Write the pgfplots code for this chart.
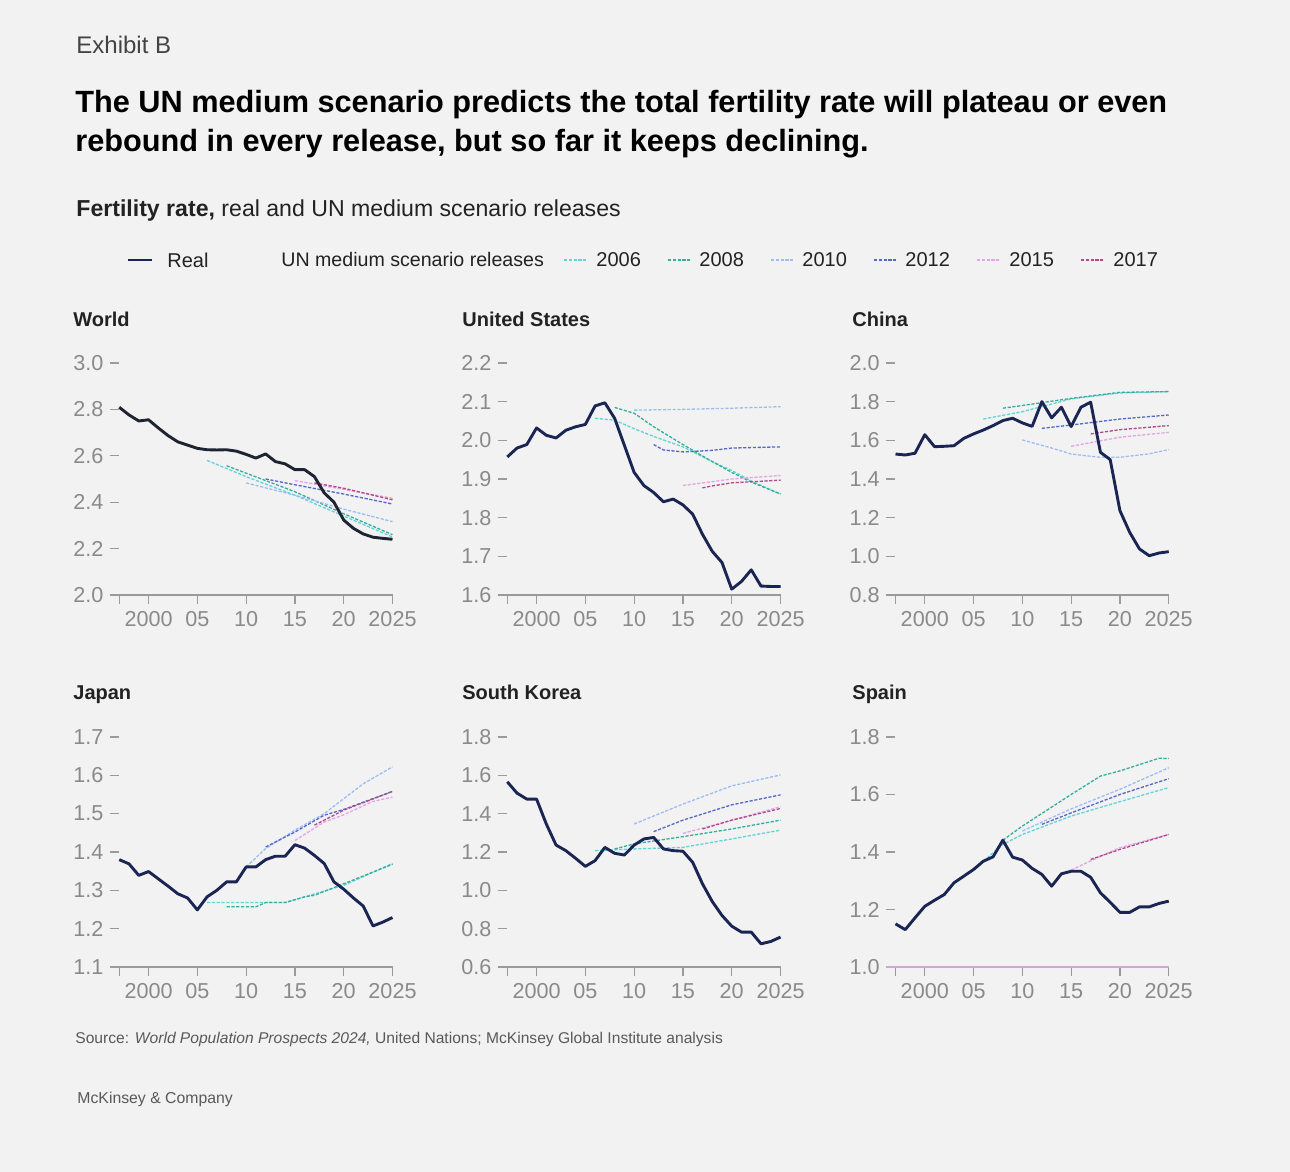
\documentclass[border=0pt]{standalone}
\usepackage{pgfplots}
\pgfplotsset{compat=1.18}
\usepackage{fontspec}
\setmainfont{Liberation Sans}
\definecolor{bg}{HTML}{F2F2F2}
\definecolor{realc}{HTML}{1A2553}
\definecolor{worldc}{HTML}{1E2432}
\definecolor{c2006}{HTML}{62D3D9}
\definecolor{c2008}{HTML}{35AE9E}
\definecolor{c2010}{HTML}{9DBDF2}
\definecolor{c2012}{HTML}{5567C8}
\definecolor{c2015}{HTML}{E3A5E8}
\definecolor{c2017}{HTML}{B04A8C}
\definecolor{axisgray}{HTML}{9A9A9A}
\definecolor{ticklabelgray}{HTML}{8A8A8A}
\definecolor{textdark}{HTML}{222222}
\tikzset{
  scen/.style={line width=0.65bp, dash pattern=on 1.6bp off 0.8bp},
  s2006/.style={scen, color=c2006},
  s2008/.style={scen, color=c2008},
  s2010/.style={scen, color=c2010},
  s2012/.style={scen, color=c2012},
  s2015/.style={scen, color=c2015},
  s2017/.style={scen, color=c2017},
  real/.style={line width=1.45bp, color=realc, line join=round},
}
\pgfplotsset{
  panel/.style={
    scale only axis, width=141.5bp, height=116bp,
    xmin=1996, xmax=2025,
    axis x line=bottom, axis y line=left,
    axis line style={-, draw=axisgray, line width=0.6bp},
    y axis line style={draw=none},
    tick align=outside, major tick length=4.5bp,
    tick style={draw=axisgray, line width=0.6bp},
    ytick style={xshift=4.5bp},
    xtick={1997,2000,2005,2010,2015,2020,2025},
    xticklabels={,2000,05,10,15,20,2025},
    ticklabel style={font=\fontsize{10.8bp}{12bp}\selectfont, text=ticklabelgray},
    yticklabel style={xshift=5bp},
    xticklabel style={text height=7.8bp, text depth=0pt},
    clip=false,
  },
}
\newcommand{\ptitle}[3]{\node[anchor=base west, inner sep=0, text=textdark] at (#1,#2) {\fontsize{10bp}{12bp}\selectfont\bfseries #3};}
\begin{document}
\begin{tikzpicture}[x=0.5bp,y=0.5bp]
\fill[bg] (0,0) rectangle (1290,1172);
% header
\node[anchor=base west, inner sep=0, text=textdark!85] at (76,1118) {\fontsize{12bp}{14bp}\selectfont Exhibit B};
\node[anchor=base west, inner sep=0, text=black] at (75,1059) {\fontsize{15.35bp}{18bp}\selectfont\bfseries The UN medium scenario predicts the total fertility rate will plateau or even};
\node[anchor=base west, inner sep=0, text=black] at (75,1020) {\fontsize{15.35bp}{18bp}\selectfont\bfseries rebound in every release, but so far it keeps declining.};
\node[anchor=base west, inner sep=0, text=textdark] at (76,955) {\fontsize{11.55bp}{13bp}\selectfont\textbf{Fertility rate,} real and UN medium scenario releases};
% legend
\draw[realc, line width=1.4bp] (128,912) -- (152,912);
\node[anchor=west, inner sep=0, text=textdark] at (167,912) {\fontsize{10bp}{12bp}\selectfont Real};
\node[anchor=west, inner sep=0, text=textdark] at (281,912) {\fontsize{9.8bp}{12bp}\selectfont UN medium scenario releases};
\draw[s2006] (564,912) -- (586,912);
\node[anchor=west, inner sep=0, text=textdark] at (596,912) {\fontsize{10bp}{12bp}\selectfont 2006};
\draw[s2008] (668,912) -- (690,912);
\node[anchor=west, inner sep=0, text=textdark] at (699,912) {\fontsize{10bp}{12bp}\selectfont 2008};
\draw[s2010] (771,912) -- (793,912);
\node[anchor=west, inner sep=0, text=textdark] at (802,912) {\fontsize{10bp}{12bp}\selectfont 2010};
\draw[s2012] (874,912) -- (896,912);
\node[anchor=west, inner sep=0, text=textdark] at (905,912) {\fontsize{10bp}{12bp}\selectfont 2012};
\draw[s2015] (977,912) -- (999,912);
\node[anchor=west, inner sep=0, text=textdark] at (1009,912) {\fontsize{10bp}{12bp}\selectfont 2015};
\draw[s2017] (1081,912) -- (1103,912);
\node[anchor=west, inner sep=0, text=textdark] at (1113,912) {\fontsize{10bp}{12bp}\selectfont 2017};
% panel titles
\ptitle{73}{845}{World}
\ptitle{462}{845}{United States}
\ptitle{852}{845}{China}
\ptitle{73}{472}{Japan}
\ptitle{462}{472}{South Korea}
\ptitle{852}{472}{Spain}
% footer
\node[anchor=base west, inner sep=0, text=textdark!75] at (75,128) {\fontsize{7.8bp}{9bp}\selectfont Source: \textit{World Population Prospects 2024,} United Nations; McKinsey Global Institute analysis};
\node[anchor=base west, inner sep=0, text=textdark!75] at (77,68) {\fontsize{7.9bp}{10bp}\selectfont McKinsey \& Company};

% ---------------- World
\begin{axis}[panel, at={(54.75bp,288.5bp)}, anchor=south west, ymin=2.0, ymax=3.0,
  ytick={2.0,2.2,2.4,2.6,2.8,3.0}, yticklabels={2.0,2.2,2.4,2.6,2.8,3.0}]
\addplot[s2006] coordinates {(2006,2.58)(2010,2.51)(2015,2.43)(2020,2.34)(2025,2.25)};
\addplot[s2008] coordinates {(2008,2.557)(2010,2.525)(2015,2.445)(2020,2.35)(2025,2.26)};
\addplot[s2010] coordinates {(2010,2.483)(2015,2.43)(2020,2.37)(2025,2.316)};
\addplot[s2012] coordinates {(2012,2.50)(2015,2.475)(2020,2.435)(2025,2.392)};
\addplot[s2015] coordinates {(2015,2.493)(2020,2.455)(2025,2.417)};
\addplot[s2017] coordinates {(2017,2.483)(2020,2.46)(2025,2.41)};
\addplot[real, color=worldc] coordinates {
(1997,2.809)(1998,2.776)(1999,2.75)(2000,2.755)(2001,2.72)(2002,2.687)(2003,2.66)(2004,2.646)
(2005,2.632)(2006,2.626)(2007,2.625)(2008,2.626)(2009,2.62)(2010,2.606)(2011,2.59)(2012,2.608)
(2013,2.575)(2014,2.565)(2015,2.54)(2016,2.54)(2017,2.51)(2018,2.44)(2019,2.40)(2020,2.323)
(2021,2.287)(2022,2.263)(2023,2.249)(2024,2.244)(2025,2.24)};
\end{axis}

% ---------------- United States
\begin{axis}[panel, at={(248.75bp,288.5bp)}, anchor=south west, ymin=1.6, ymax=2.2,
  ytick={1.6,1.7,1.8,1.9,2.0,2.1,2.2}, yticklabels={1.6,1.7,1.8,1.9,2.0,2.1,2.2}]
\addplot[s2006] coordinates {(2006,2.057)(2008,2.052)(2010,2.03)(2012,2.01)(2015,1.983)(2018,1.945)(2020,1.922)(2022,1.895)(2025,1.861)};
\addplot[s2008] coordinates {(2008,2.085)(2010,2.07)(2012,2.035)(2015,1.989)(2018,1.945)(2020,1.917)(2022,1.892)(2025,1.861)};
\addplot[s2010] coordinates {(2010,2.078)(2015,2.08)(2020,2.083)(2025,2.087)};
\addplot[s2012] coordinates {(2012,1.989)(2013,1.975)(2015,1.97)(2018,1.974)(2020,1.98)(2025,1.983)};
\addplot[s2015] coordinates {(2015,1.883)(2018,1.893)(2020,1.9)(2025,1.909)};
\addplot[s2017] coordinates {(2017,1.877)(2018,1.882)(2020,1.89)(2025,1.897)};
\addplot[real] coordinates {
(1997,1.957)(1998,1.98)(1999,1.989)(2000,2.032)(2001,2.013)(2002,2.006)(2003,2.026)(2004,2.035)
(2005,2.041)(2006,2.089)(2007,2.097)(2008,2.057)(2009,1.987)(2010,1.917)(2011,1.883)(2012,1.865)
(2013,1.841)(2014,1.848)(2015,1.833)(2016,1.809)(2017,1.757)(2018,1.713)(2019,1.684)(2020,1.615)
(2021,1.635)(2022,1.665)(2023,1.623)(2024,1.622)(2025,1.622)};
\end{axis}

% ---------------- China
\begin{axis}[panel, at={(442.85bp,288.5bp)}, anchor=south west, ymin=0.8, ymax=2.0,
  ytick={0.8,1.0,1.2,1.4,1.6,1.8,2.0}, yticklabels={0.8,1.0,1.2,1.4,1.6,1.8,2.0}]
\addplot[s2006] coordinates {(2006,1.71)(2010,1.748)(2015,1.814)(2020,1.845)(2025,1.852)};
\addplot[s2008] coordinates {(2008,1.766)(2010,1.78)(2015,1.817)(2020,1.848)(2025,1.852)};
\addplot[s2010] coordinates {(2010,1.602)(2013,1.56)(2015,1.529)(2018,1.512)(2020,1.512)(2023,1.53)(2025,1.552)};
\addplot[s2012] coordinates {(2012,1.662)(2015,1.679)(2020,1.71)(2025,1.731)};
\addplot[s2015] coordinates {(2015,1.569)(2020,1.616)(2025,1.641)};
\addplot[s2017] coordinates {(2017,1.633)(2020,1.655)(2025,1.676)};
\addplot[real] coordinates {
(1997,1.529)(1998,1.524)(1999,1.533)(2000,1.629)(2001,1.567)(2002,1.569)(2003,1.572)(2004,1.61)
(2005,1.633)(2006,1.653)(2007,1.676)(2008,1.702)(2009,1.714)(2010,1.69)(2011,1.672)(2012,1.80)
(2013,1.716)(2014,1.771)(2015,1.671)(2016,1.771)(2017,1.797)(2018,1.538)(2019,1.50)(2020,1.236)
(2021,1.124)(2022,1.038)(2023,1.003)(2024,1.017)(2025,1.024)};
\end{axis}

% ---------------- Japan
\begin{axis}[panel, height=115bp, at={(54.75bp,102.5bp)}, anchor=south west, ymin=1.1, ymax=1.7,
  ytick={1.1,1.2,1.3,1.4,1.5,1.6,1.7}, yticklabels={1.1,1.2,1.3,1.4,1.5,1.6,1.7}]
\addplot[s2006] coordinates {(2006,1.268)(2014,1.268)(2016,1.283)(2020,1.313)(2025,1.37)};
\addplot[s2008] coordinates {(2008,1.257)(2011,1.257)(2012,1.268)(2014,1.268)(2016,1.283)(2017,1.287)(2020,1.317)(2025,1.368)};
\addplot[s2010] coordinates {(2010,1.361)(2012,1.409)(2015,1.457)(2018,1.50)(2020,1.539)(2022,1.578)(2025,1.622)};
\addplot[s2012] coordinates {(2012,1.413)(2015,1.452)(2018,1.496)(2020,1.511)(2025,1.558)};
\addplot[s2015] coordinates {(2015,1.43)(2018,1.478)(2020,1.497)(2023,1.532)(2025,1.543)};
\addplot[s2017] coordinates {(2017,1.47)(2020,1.509)(2025,1.558)};
\addplot[real] coordinates {
(1997,1.38)(1998,1.369)(1999,1.339)(2000,1.349)(2001,1.33)(2002,1.311)(2003,1.291)(2004,1.28)
(2005,1.249)(2006,1.283)(2007,1.30)(2008,1.322)(2009,1.322)(2010,1.361)(2011,1.361)(2012,1.38)
(2013,1.389)(2014,1.389)(2015,1.419)(2016,1.41)(2017,1.391)(2018,1.37)(2019,1.322)(2020,1.303)
(2021,1.28)(2022,1.259)(2023,1.207)(2024,1.217)(2025,1.229)};
\end{axis}

% ---------------- South Korea
\begin{axis}[panel, height=115bp, at={(248.75bp,102.5bp)}, anchor=south west, ymin=0.6, ymax=1.8,
  ytick={0.6,0.8,1.0,1.2,1.4,1.6,1.8}, yticklabels={0.6,0.8,1.0,1.2,1.4,1.6,1.8}]
\addplot[s2006] coordinates {(2006,1.207)(2010,1.216)(2015,1.224)(2020,1.268)(2025,1.314)};
\addplot[s2008] coordinates {(2008,1.216)(2010,1.242)(2015,1.28)(2020,1.32)(2025,1.366)};
\addplot[s2010] coordinates {(2010,1.346)(2015,1.45)(2020,1.545)(2025,1.602)};
\addplot[s2012] coordinates {(2012,1.306)(2015,1.366)(2020,1.446)(2025,1.498)};
\addplot[s2015] coordinates {(2015,1.297)(2020,1.366)(2025,1.436)};
\addplot[s2017] coordinates {(2017,1.32)(2020,1.366)(2025,1.427)};
\addplot[real] coordinates {
(1997,1.566)(1998,1.507)(1999,1.476)(2000,1.476)(2001,1.346)(2002,1.236)(2003,1.207)(2004,1.167)
(2005,1.125)(2006,1.155)(2007,1.224)(2008,1.193)(2009,1.184)(2010,1.236)(2011,1.268)(2012,1.276)
(2013,1.216)(2014,1.207)(2015,1.204)(2016,1.146)(2017,1.034)(2018,0.942)(2019,0.869)(2020,0.813)
(2021,0.782)(2022,0.782)(2023,0.721)(2024,0.733)(2025,0.756)};
\end{axis}

% ---------------- Spain
\begin{axis}[panel, height=115bp, at={(442.85bp,102.5bp)}, anchor=south west, ymin=1.0, ymax=1.8,
  ytick={1.0,1.2,1.4,1.6,1.8}, yticklabels={1.0,1.2,1.4,1.6,1.8},
  x axis line style={draw=c2015!80!axisgray}]
\addplot[s2006] coordinates {(2006,1.368)(2008,1.426)(2010,1.461)(2015,1.525)(2020,1.575)(2025,1.624)};
\addplot[s2008] coordinates {(2008,1.441)(2010,1.49)(2015,1.60)(2018,1.664)(2020,1.682)(2024,1.726)(2025,1.725)};
\addplot[s2010] coordinates {(2010,1.473)(2015,1.55)(2020,1.618)(2025,1.693)};
\addplot[s2012] coordinates {(2012,1.496)(2015,1.536)(2020,1.60)(2025,1.655)};
\addplot[s2015] coordinates {(2015,1.337)(2018,1.385)(2020,1.415)(2025,1.461)};
\addplot[s2017] coordinates {(2017,1.374)(2020,1.409)(2025,1.461)};
\addplot[real] coordinates {
(1997,1.15)(1998,1.13)(1999,1.171)(2000,1.211)(2001,1.232)(2002,1.252)(2003,1.293)(2004,1.316)
(2005,1.339)(2006,1.368)(2007,1.383)(2008,1.441)(2009,1.382)(2010,1.372)(2011,1.343)(2012,1.322)
(2013,1.281)(2014,1.324)(2015,1.333)(2016,1.333)(2017,1.312)(2018,1.258)(2019,1.225)(2020,1.19)
(2021,1.19)(2022,1.209)(2023,1.209)(2024,1.221)(2025,1.229)};
\end{axis}
\end{tikzpicture}
\end{document}
